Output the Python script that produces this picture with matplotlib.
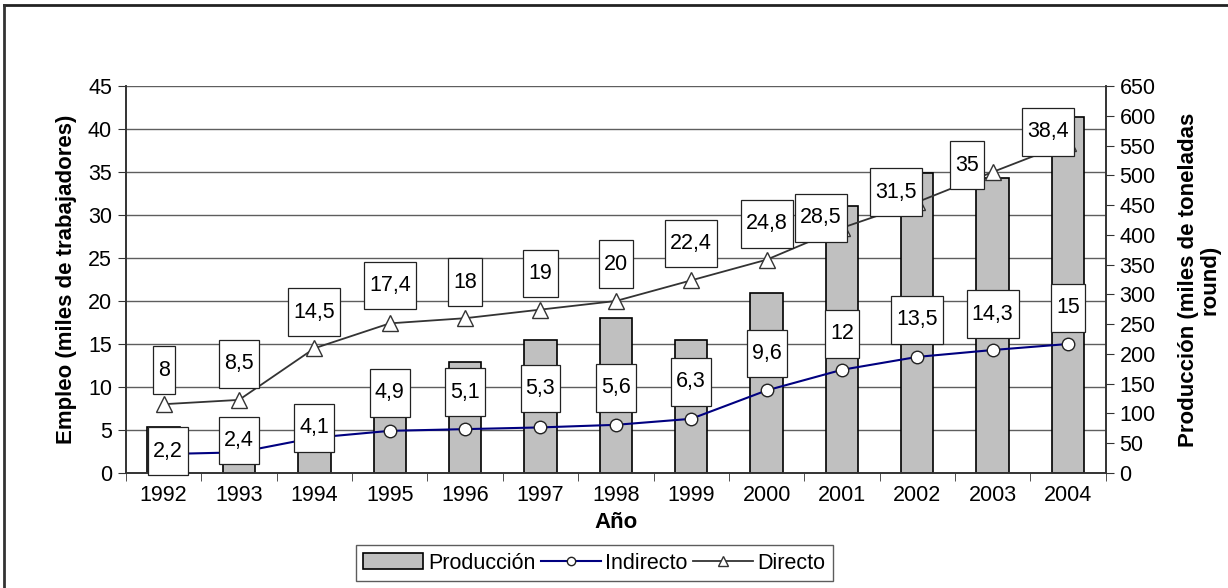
import matplotlib
matplotlib.use("Agg")
import matplotlib.pyplot as plt
import numpy as np
from matplotlib.path import Path
from matplotlib.lines import Line2D
from matplotlib.patches import Patch
from matplotlib.transforms import blended_transform_factory

plt.rcParams['font.family'] = ['Liberation Sans', 'DejaVu Sans']

# data
years = ['1992', '1993', '1994', '1995', '1996', '1997', '1998',
         '1999', '2000', '2001', '2002', '2003', '2004']
produccion = [78, 50, 103, 140, 186, 223, 260, 223, 303, 448, 504, 495, 598]
indirecto = [2.2, 2.4, 4.1, 4.9, 5.1, 5.3, 5.6, 6.3, 9.6, 12, 13.5, 14.3, 15]
directo = [8, 8.5, 14.5, 17.4, 18, 19, 20, 22.4, 24.8, 28.5, 31.5, 35, 38.4]

# label placement (pixel offsets from the point, as moved by hand in the original)
ind_dx = [4, 0, 0, 0, 0, 0, 0, 0, 0, 0, 0, 0, 0]
ind_dy = [3, 12, 10, 38, 37, 39, 37, 37, 37, 36, 37, 36, 36]
dir_dx = [0, 0, 0, 0, 0, 0, 0, 0, 0, -21, -21, -26, -20]
dir_dy = [34, 36, 36, 38, 36, 36, 37, 37, 36, 10, 10, 7, 11]

FS = 15.5


def label_box(x0, y0, width, height, mutation_size):
    # excel style label box: narrow side padding, tall top/bottom padding
    px = 0.24 * mutation_size
    py = 0.62 * mutation_size
    x0, x1 = x0 - px, x0 + width + px
    y0, y1 = y0 - py, y0 + height + py
    return Path([(x0, y0), (x1, y0), (x1, y1), (x0, y1), (x0, y0)], closed=True)


fig = plt.figure(figsize=(12.28, 5.88), dpi=100)
ax = fig.add_axes([0.1026, 0.1956, 0.7978, 0.6581])
ax2 = ax.twinx()
ax.set_zorder(2)
ax2.set_zorder(1)
ax.patch.set_visible(False)

x = np.arange(len(years))

# gridlines follow the left axis but sit behind the bars
blend = blended_transform_factory(ax2.transAxes, ax.transData)
for g in range(5, 46, 5):
    ax2.plot([0, 1], [g, g], transform=blend, color='#5e5e5e', lw=1.0, zorder=0.5)

ax2.bar(x, produccion, width=0.43, color='#c0c0c0', edgecolor='black', linewidth=1.2, zorder=2)

ax.plot(x, indirecto, color='#000080', lw=1.5, marker='o', markersize=9,
        markerfacecolor='white', markeredgecolor='#222222', markeredgewidth=1.0, zorder=3)
ax.plot(x, directo, color='#333333', lw=1.3, marker='^', markersize=11,
        markerfacecolor='white', markeredgecolor='#333333', markeredgewidth=1.0, zorder=3)

for i in range(len(years)):
    for vals, dx, dy in [(indirecto, ind_dx, ind_dy), (directo, dir_dx, dir_dy)]:
        ax.annotate(str(vals[i]).replace('.', ','), xy=(x[i], vals[i]),
                    xytext=(dx[i], dy[i]), textcoords='offset pixels',
                    ha='center', va='center', fontsize=FS, zorder=5,
                    bbox=dict(boxstyle=label_box, fc='white', ec='#222222', lw=0.9))

ax.set_xlim(-0.5, len(years) - 0.5)
ax.set_ylim(0, 45)
ax2.set_ylim(0, 650)
ax.set_yticks(range(0, 46, 5))
ax2.set_yticks(range(0, 651, 50))
ax.set_xticks(x)
ax.set_xticklabels(years)
ax.set_xticks(np.arange(-0.5, len(years), 1), minor=True)
ax.tick_params(axis='x', which='major', length=0, pad=9, labelsize=FS)
ax.tick_params(axis='x', which='minor', length=6, direction='out', color='#333333')
ax.tick_params(axis='y', length=6, direction='out', color='#333333', labelsize=FS, pad=4)
ax2.tick_params(axis='y', length=6, direction='out', color='#333333', labelsize=FS, pad=4)

for a in (ax, ax2):
    a.spines['top'].set_visible(False)
    for s in ('left', 'right', 'bottom'):
        a.spines[s].set_color('#333333')
        a.spines[s].set_linewidth(1.2)

ax.set_ylabel('Empleo (miles de trabajadores)', fontsize=16, fontweight='bold', labelpad=8)
ax2.set_ylabel('Producción (miles de toneladas\nround)', fontsize=16, fontweight='bold',
               labelpad=16, linespacing=1.0)
ax.set_xlabel('Año', fontsize=16, fontweight='bold', labelpad=4)

handles = [
    Patch(facecolor='#c0c0c0', edgecolor='black', linewidth=1.2),
    Line2D([], [], color='#000080', lw=1.5, marker='o', markersize=6,
           markerfacecolor='white', markeredgecolor='#222222'),
    Line2D([], [], color='#333333', lw=1.3, marker='^', markersize=7,
           markerfacecolor='white', markeredgecolor='#333333'),
]
leg = fig.legend(handles, ['Producción', 'Indirecto', 'Directo'], loc='center',
                 bbox_to_anchor=(0.484, 0.0425), ncol=3, fontsize=FS, frameon=True,
                 fancybox=False, edgecolor='#333333', handlelength=2.8,
                 handletextpad=0.2, columnspacing=0.25, borderpad=0.35)
leg.get_frame().set_linewidth(1.0)

# outer chart border (top and left edges visible in the original)
fig.add_artist(Line2D([0.003, 1.0], [0.992, 0.992], transform=fig.transFigure,
                      color='#222222', lw=2))
fig.add_artist(Line2D([0.003, 0.003], [0.0, 0.992], transform=fig.transFigure,
                      color='#333333', lw=2))

fig.savefig('out.png', dpi=100)
